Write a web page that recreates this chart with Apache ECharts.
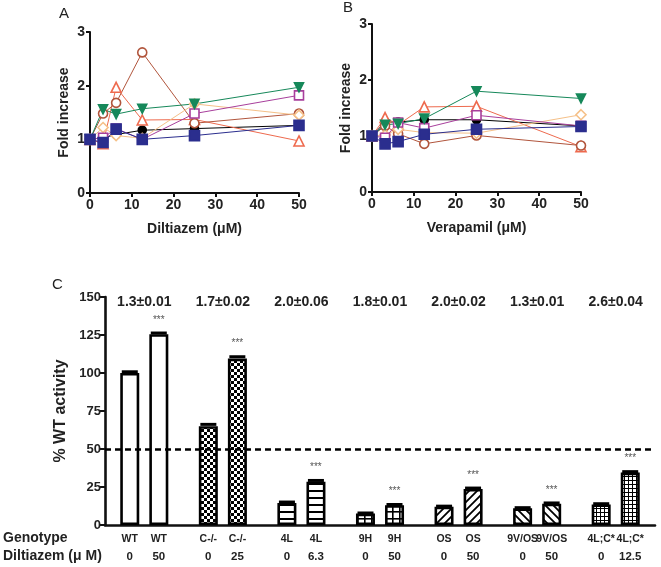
<!DOCTYPE html>
<html><head><meta charset="utf-8">
<script src="https://cdn.jsdelivr.net/npm/echarts@6/dist/echarts.min.js"></script>
<style>html,body{margin:0;padding:0;background:#fff}#c{width:661px;height:567px}</style>
</head><body><div id="c"></div>
<script>
// ---------- DATA ----------
const doses = [0, 3.125, 6.25, 12.5, 25, 50];
const xTicksAB = [0, 10, 20, 30, 40, 50];

// Panel A (Diltiazem)
const dilBlack   = [1.00, 1.03, 1.09, 1.17, 1.20, 1.26];
const dilGreen   = [1.00, 1.56, 1.47, 1.57, 1.66, 1.97];
const dilMagenta = [1.00, 1.03, 1.20, 1.00, 1.48, 1.82];
const dilPeach   = [1.00, 1.22, 1.07, 1.02, 1.66, 1.45];
const dilBrown   = [1.00, 1.48, 1.68, 2.62, 1.30, 1.48];
const dilSalmon  = [1.00, 0.92, 1.97, 1.36, 1.37, 0.97];
const dilNavy    = [1.00, 0.94, 1.19, 1.00, 1.07, 1.26];

// Panel B (Verapamil)
const verBlack   = [1.00, 1.25, 1.25, 1.29, 1.29, 1.18];
const verGreen   = [1.00, 1.20, 1.22, 1.31, 1.80, 1.67];
const verMagenta = [1.00, 0.97, 1.24, 1.14, 1.37, 1.18];
const verPeach   = [1.00, 1.02, 1.12, 1.06, 1.05, 1.38];
const verBrown   = [1.00, 1.18, 1.04, 0.86, 1.01, 0.83];
const verSalmon  = [1.00, 1.33, 1.20, 1.52, 1.53, 0.81];
const verNavy    = [1.00, 0.86, 0.90, 1.03, 1.12, 1.17];

// Panel C
const genotypes   = ['WT', 'C-/-', '4L', '9H', 'OS', '9V/OS', '4L;C*'];
const doseZero    = ['0', '0', '0', '0', '0', '0', '0'];
const doseTreated = ['50', '25', '6.3', '50', '50', '50', '12.5'];
const untreated   = [100, 65, 14.5, 7.5, 12, 11, 13.5];
const treated     = [125.5, 109.5, 28.5, 13, 23.7, 14, 34.5];
const errUntreated= [0.8, 1.2, 0.6, 0.4, 0.4, 0.4, 0.5];
const errTreated  = [0.8, 1.2, 0.8, 0.5, 0.6, 0.5, 0.6];
const foldLabels  = ['1.3±0.01', '1.7±0.02', '2.0±0.06', '1.8±0.01', '2.0±0.02', '1.3±0.01', '2.6±0.04'];
const sigTreated  = [1, 1, 1, 1, 1, 1, 1];

// ---------- STYLES ----------
const FONT = 'Arial, "Liberation Sans", sans-serif';
const lineStyles = {
  black:   {color: '#000000', symbol: 'circle',   size: 8, fill: true},
  green:   {color: '#16885a', symbol: 'triangle', size: 9, fill: true, rot: 180},
  magenta: {color: '#a83f9c', symbol: 'rect',     size: 9, fill: false},
  peach:   {color: '#f5c088', symbol: 'diamond',  size: 10, fill: false},
  brown:   {color: '#b1553c', symbol: 'circle',   size: 9, fill: false},
  salmon:  {color: '#ee6a4e', symbol: 'triangle', size: 10, fill: false},
  navy:    {color: '#2b2e8e', symbol: 'rect',     size: 10, fill: true}
};

function mkCanvas(w, h, draw) {
  const c = document.createElement('canvas');
  c.width = w; c.height = h;
  const g = c.getContext('2d');
  g.fillStyle = '#fff'; g.fillRect(0, 0, w, h);
  g.fillStyle = '#000'; g.strokeStyle = '#000';
  draw(g);
  return {image: c, repeat: 'repeat'};
}
const patterns = {
  white: '#ffffff',
  checker: mkCanvas(6, 6, g => { g.fillRect(0, 0, 3, 3); g.fillRect(3, 3, 3, 3); }),
  hstripe: mkCanvas(7, 7, g => { g.fillRect(0, 0, 7, 2); }),
  grid: mkCanvas(7, 7, g => { g.fillRect(0, 0, 7, 1.6); g.fillRect(0, 0, 1.6, 7); }),
  diagR: mkCanvas(8, 8, g => { g.lineWidth = 1.8; g.beginPath(); g.moveTo(-1, 9); g.lineTo(9, -1); g.moveTo(-1, 1); g.lineTo(1, -1); g.moveTo(7, 9); g.lineTo(9, 7); g.stroke(); }),
  diagL: mkCanvas(8, 8, g => { g.lineWidth = 1.8; g.beginPath(); g.moveTo(-1, -1); g.lineTo(9, 9); g.moveTo(7, -1); g.lineTo(9, 1); g.moveTo(-1, 7); g.lineTo(1, 9); g.stroke(); }),
  fine: mkCanvas(4, 4, g => { g.fillRect(0, 0, 4, 1); g.fillRect(0, 0, 1, 4); })
};
const groupPattern = ['white', 'checker', 'hstripe', 'grid', 'diagR', 'diagL', 'fine'];

function lineSeries(vals, key, gi) {
  const s = lineStyles[key];
  return {
    type: 'line', xAxisIndex: gi, yAxisIndex: gi,
    data: doses.map((d, i) => [d, vals[i]]),
    symbol: s.symbol, symbolSize: s.size, symbolRotate: s.rot || 0,
    showAllSymbol: true,
    lineStyle: {color: s.color, width: 1},
    itemStyle: {color: s.fill ? s.color : '#ffffff', borderColor: s.color, borderWidth: 1.6},
    emphasis: {disabled: true}, animation: false
  };
}

function abAxes(gi, name) {
  return {
    x: {
      type: 'value', gridIndex: gi, min: 0, max: 50, interval: 10,
      name: name, nameLocation: 'middle', nameGap: 29,
      nameTextStyle: {fontFamily: FONT, fontWeight: 'bold', fontSize: 14, color: '#222'},
      axisLine: {lineStyle: {color: '#111', width: 2}},
      axisTick: {show: true, length: 4, lineStyle: {color: '#111', width: 2}},
      axisLabel: {fontFamily: FONT, fontWeight: 'bold', fontSize: 14, color: '#222', margin: 5,
        formatter: v => xTicksAB.includes(v) ? String(v) : ''},
      splitLine: {show: false}
    },
    y: {
      type: 'value', gridIndex: gi, min: 0, max: 3, interval: 1,
      name: 'Fold increase', nameLocation: 'middle', nameGap: 19,
      nameTextStyle: {fontFamily: FONT, fontWeight: 'bold', fontSize: 14, color: '#222'},
      axisLine: {show: true, lineStyle: {color: '#111', width: 2}},
      axisTick: {show: true, length: 4, lineStyle: {color: '#111', width: 2}},
      axisLabel: {fontFamily: FONT, fontWeight: 'bold', fontSize: 14, color: '#222', margin: 5},
      splitLine: {show: false}
    }
  };
}
const axA = abAxes(0, 'Diltiazem (μM)');
const axB = abAxes(1, 'Verapamil (μM)');

const BAR_OFF = 14.5;
function capData(vals, errs, side, sig) {
  return vals.map((v, i) => [i, v, errs[i], side, sig ? sig[i] : 0]);
}
function renderCap(params, api) {
  const cat = api.value(0), v = api.value(1), e = api.value(2), side = api.value(3), star = api.value(4);
  const p = api.coord([cat, v + e]);
  const x = p[0] + side * BAR_OFF;
  const children = [{
    type: 'rect', shape: {x: x - 8, y: p[1] - 1.5, width: 16, height: 3},
    style: {fill: '#000'}
  }];
  if (star) {
    children.push({type: 'text', style: {text: '***', x: x, y: p[1] - 13, align: 'center', verticalAlign: 'middle',
      fontSize: 10, fontFamily: FONT, fill: '#555'}});
  }
  return {type: 'group', children: children};
}

function barSeries(vals, doseLbls, side) {
  return {
    type: 'bar', xAxisIndex: 2, yAxisIndex: 2,
    barWidth: 19, barGap: '53%',
    data: vals.map((v, i) => ({value: v, itemStyle: {color: patterns[groupPattern[i]]}})),
    itemStyle: {borderColor: '#000', borderWidth: 2.6},
    label: {
      show: true, position: 'bottom', distance: 5,
      formatter: p => '{g|' + genotypes[p.dataIndex] + '}\n{d|' + doseLbls[p.dataIndex] + '}',
      rich: {
        g: {fontFamily: FONT, fontWeight: 'bold', fontSize: 10.5, lineHeight: 18, color: '#222'},
        d: {fontFamily: FONT, fontWeight: 'bold', fontSize: 11.5, lineHeight: 18, color: '#222'}
      }
    },
    emphasis: {disabled: true}, animation: false
  };
}

const bar0 = barSeries(untreated, doseZero, -1);
bar0.markLine = {
  silent: true, symbol: 'none', animation: false,
  data: [{yAxis: 50}],
  lineStyle: {type: [6, 4], width: 2.6, color: '#000'},
  label: {show: false}
};
const bar1 = barSeries(treated, doseTreated, 1);

const option = {
  backgroundColor: '#ffffff',
  animation: false,
  grid: [
    {left: 90, top: 32, width: 209, height: 161},
    {left: 372, top: 24, width: 209, height: 168},
    {left: 105, top: 297, width: 550, height: 228}
  ],
  xAxis: [
    axA.x, axB.x,
    {
      type: 'category', gridIndex: 2, data: genotypes,
      axisLine: {lineStyle: {color: '#111', width: 2.6}},
      axisTick: {show: false}, axisLabel: {show: false}
    },
    {
      type: 'category', gridIndex: 2, position: 'top', data: foldLabels,
      axisLine: {show: false}, axisTick: {show: false},
      axisLabel: {fontFamily: FONT, fontWeight: 'bold', fontSize: 14, color: '#222', margin: -12}
    }
  ],
  yAxis: [
    axA.y, axB.y,
    {
      type: 'value', gridIndex: 2, min: 0, max: 150, interval: 25,
      name: '% WT activity', nameLocation: 'middle', nameGap: 31,
      nameTextStyle: {fontFamily: FONT, fontWeight: 'bold', fontSize: 16, color: '#222'},
      axisLine: {show: true, lineStyle: {color: '#111', width: 2.6}},
      axisTick: {show: true, length: 5, lineStyle: {color: '#111', width: 2}},
      axisLabel: {fontFamily: FONT, fontWeight: 'bold', fontSize: 13, color: '#222', margin: 4},
      splitLine: {show: false}
    }
  ],
  graphic: [
    {type: 'text', left: 59, top: 6, style: {text: 'A', fontFamily: FONT, fontSize: 15, fill: '#222'}},
    {type: 'text', left: 343, top: 0, style: {text: 'B', fontFamily: FONT, fontSize: 15, fill: '#222'}},
    {type: 'text', left: 52, top: 277, style: {text: 'C', fontFamily: FONT, fontSize: 15, fill: '#222'}},
    {type: 'text', left: 3, top: 531, style: {text: 'Genotype', fontFamily: FONT, fontWeight: 'bold', fontSize: 14, fill: '#222'}},
    {type: 'text', left: 3, top: 549, style: {text: 'Diltiazem (μ M)', fontFamily: FONT, fontWeight: 'bold', fontSize: 14, fill: '#222'}}
  ],
  series: [
    lineSeries(dilBlack, 'black', 0),
    lineSeries(dilSalmon, 'salmon', 0),
    lineSeries(dilBrown, 'brown', 0),
    lineSeries(dilPeach, 'peach', 0),
    lineSeries(dilMagenta, 'magenta', 0),
    lineSeries(dilGreen, 'green', 0),
    lineSeries(dilNavy, 'navy', 0),
    lineSeries(verBlack, 'black', 1),
    lineSeries(verSalmon, 'salmon', 1),
    lineSeries(verBrown, 'brown', 1),
    lineSeries(verPeach, 'peach', 1),
    lineSeries(verMagenta, 'magenta', 1),
    lineSeries(verGreen, 'green', 1),
    lineSeries(verNavy, 'navy', 1),
    bar0, bar1,
    {type: 'custom', xAxisIndex: 2, yAxisIndex: 2, z: 5, data: capData(untreated, errUntreated, -1, null), renderItem: renderCap, animation: false, silent: true},
    {type: 'custom', xAxisIndex: 2, yAxisIndex: 2, z: 5, data: capData(treated, errTreated, 1, sigTreated), renderItem: renderCap, animation: false, silent: true}
  ]
};

const chart = echarts.init(document.getElementById('c'), null, {renderer: 'canvas'});
chart.setOption(option);
</script>
</body></html>
